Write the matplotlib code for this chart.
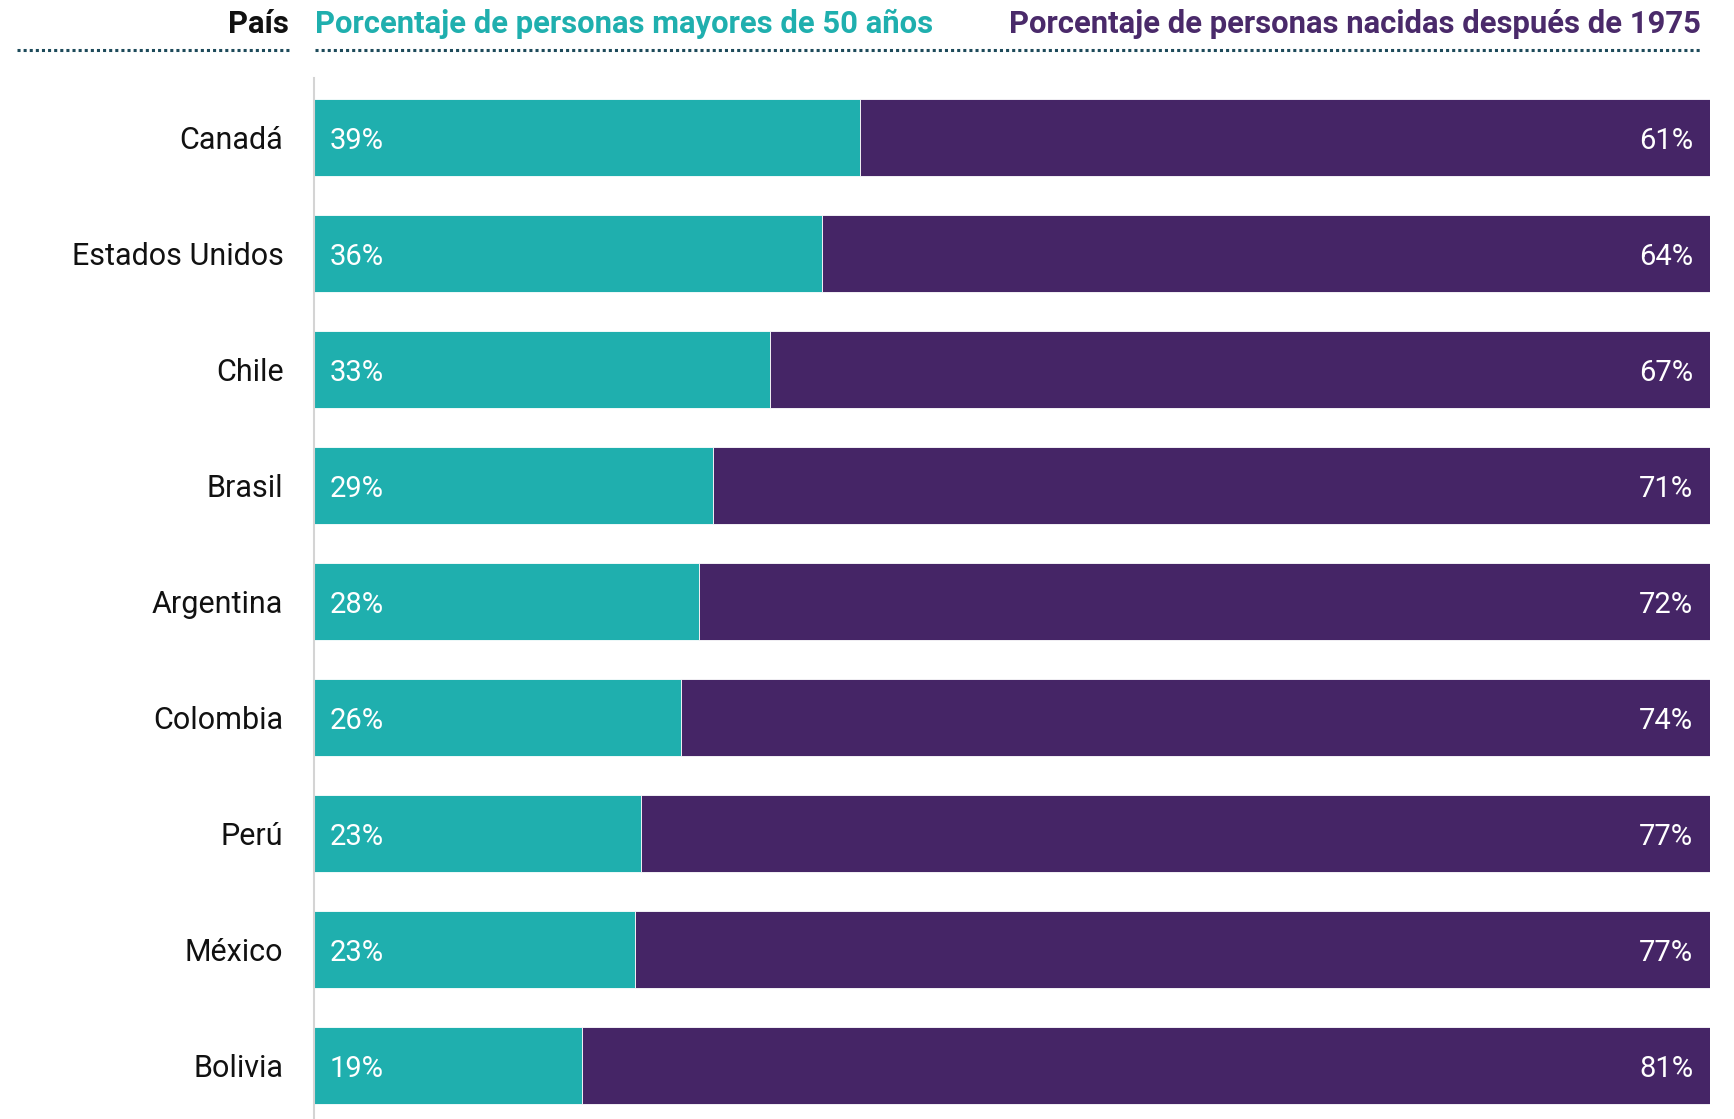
import matplotlib.pyplot as plt
from matplotlib.lines import Line2D

# datos (porcentajes)
paises = ["Canadá", "Estados Unidos", "Chile", "Brasil", "Argentina",
          "Colombia", "Perú", "México", "Bolivia"]
mayores_50 = [39.1, 36.4, 32.7, 28.6, 27.6, 26.3, 23.4, 23.0, 19.2]
nacidos_1975 = [60.9, 63.6, 67.3, 71.4, 72.4, 73.7, 76.6, 77.0, 80.8]

TEAL = "#1fafae"
PURPLE = "#452566"
DOTS = "#1d4a5a"
W, H = 1734, 1119

plt.rcParams['font.family'] = ['Roboto', 'DejaVu Sans']

fig = plt.figure(figsize=(W / 100, H / 100), dpi=100)

# ejes: izquierda 314px, derecha 1710px, arriba 78px, abajo 1119px
ax = fig.add_axes([314 / W, 0, (1710 - 314) / W, (1119 - 78) / H])

y = list(range(len(paises)))
ax.barh(y, mayores_50, height=0.664, color=TEAL, edgecolor="white", linewidth=0.6)
ax.barh(y, nacidos_1975, left=mayores_50, height=0.664, color=PURPLE,
        edgecolor="white", linewidth=0.6)

for i in y:
    ax.text(1.1, i + 0.03, f"{round(mayores_50[i])}%", color="white", fontsize=21,
            fontweight="normal", va="center", ha="left")
    ax.text(98.8, i + 0.03, f"{round(nacidos_1975[i])}%", color="white", fontsize=21,
            fontweight="normal", va="center", ha="right")

ax.set_xlim(0, 100)
ax.set_ylim(8.461, -0.513)
ax.set_yticks(y)
ax.set_yticklabels(paises, fontsize=22)
ax.tick_params(axis="y", length=0, pad=22, colors="#111111")
ax.set_xticks([])
for s in ["top", "right", "bottom"]:
    ax.spines[s].set_visible(False)
ax.spines["left"].set_color("#d4d4d4")
ax.spines["left"].set_linewidth(1.5)

# encabezados
fig.text(289 / W, 1 - 24 / H, "País", color="#111111", fontsize=22.3,
         fontweight="bold", ha="right", va="center")
fig.text(315 / W, 1 - 24 / H, "Porcentaje de personas mayores de 50 años",
         color=TEAL, fontsize=22.3, fontweight="bold", ha="left", va="center")
fig.text(1701 / W, 1 - 24 / H, "Porcentaje de personas nacidas después de 1975",
         color="#4a2a6a", fontsize=22.3, fontweight="bold", ha="right", va="center")

for x0, x1 in [(17, 290), (315, 1701)]:
    fig.add_artist(Line2D([x0 / W, x1 / W], [1 - 50 / H, 1 - 50 / H],
                          color=DOTS, linewidth=2.2, linestyle=(0, (1, 1)),
                          dash_capstyle="butt"))

fig.savefig("out.png", dpi=100)
